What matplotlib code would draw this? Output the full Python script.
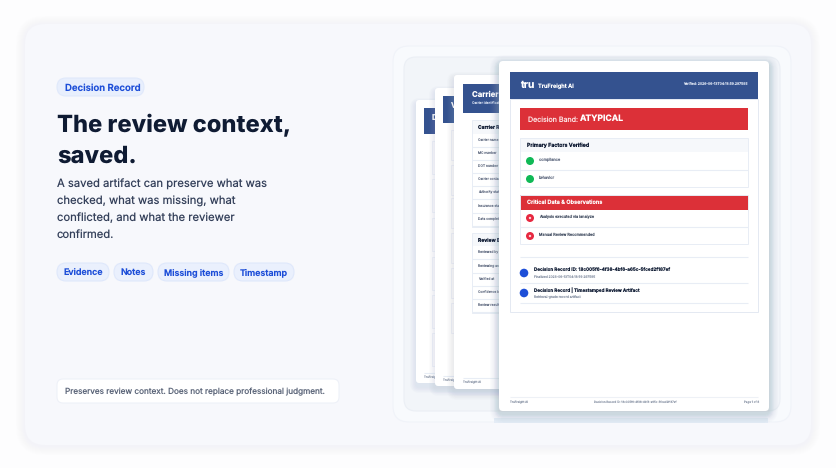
import matplotlib
matplotlib.use('Agg')
import matplotlib.pyplot as plt
from matplotlib.patches import FancyBboxPatch, Circle, Rectangle

plt.rcParams['font.family'] = ['Inter', 'DejaVu Sans']
plt.rcParams['text.hinting'] = 'none'
plt.rcParams['text.hinting_factor'] = 1

# 文本内容
badge_label = 'Decision Record'
heading_lines = ['The review context,', 'saved.']
body_lines = ['A saved artifact can preserve what was',
              'checked, what was missing, what',
              'conflicted, and what the reviewer',
              'confirmed.']
chip_labels = ['Evidence', 'Notes', 'Missing items', 'Timestamp']
note_label = 'Preserves review context. Does not replace professional judgment.'

carrier_rows = ['Carrier name', 'MC number', 'DOT number', 'Carrier contact',
                'Authority status', 'Insurance status', 'Data completeness']
review_rows = ['Reviewed by', 'Reviewing as', 'Verified at', 'Confidence band', 'Review result']
primary_factors = ['compliance', 'behavior']
critical_items = ['Analysis executed via ianalyze', 'Manual Review Recommended']
record_titles = ['Decision Record ID: 18c005f6-4f38-4bf6-a65c-5fced2f187ef',
                 'Decision Record | Timestamped Review Artifact']
record_subs = ['Finalized 2026-06-13T04:18:59.297595', 'Retrieval-grade record artifact']

NAVY = '#34528f'
RED = '#dc3038'
BLUE = '#1d4ed8'
INK = '#0f1b33'
LINE = '#e8edf5'

fig = plt.figure(figsize=(8.36, 4.68), dpi=100)
ax = fig.add_axes([0, 0, 1, 1])
ax.set_xlim(0, 836)
ax.set_ylim(468, 0)
ax.axis('off')
fig.patch.set_facecolor('#fdfdfe')


def rrect(x0, y0, x1, y1, r, fc, ec='none', lw=0.8, alpha=None, z=1):
    p = FancyBboxPatch((x0, y0), x1 - x0, y1 - y0,
                       boxstyle=f'round,pad=0,rounding_size={r}',
                       fc=fc, ec=ec, lw=lw, alpha=alpha, zorder=z)
    ax.add_patch(p)


def shadow(x0, y0, x1, y1, r, spread, dy, color, alpha, z=1):
    n = 10
    for i in range(n):
        s = spread * (1 - i / n)
        rrect(x0 - s, y0 - s + dy, x1 + s, y1 + s + dy, r + s, color, alpha=alpha, z=z)


def box(x0, y0, x1, y1, fc, z):
    ax.add_patch(Rectangle((x0, y0), x1 - x0, y1 - y0, fc=fc, ec='none', zorder=z))


def hline(y, x0, x1, z, color=LINE, lw=0.8):
    ax.plot([x0, x1], [y, y], color=color, lw=lw, zorder=z, solid_capstyle='butt')


def label(x, y, s, size, color, z=50, weight='normal', ha='left'):
    ax.text(x, y, s, fontsize=size, color=color, weight=weight, ha=ha, va='center', zorder=z)


# 背景卡片
shadow(25, 24, 811, 445, 20, 9, 1, '#eef1f8', 0.02, z=1)
rrect(25, 24, 811, 445, 20, '#f7f8fc', z=2)
rrect(393, 46, 791, 422, 16, '#f8fafd', ec='#f0f3f9', z=3)
rrect(404, 57, 780, 411, 12, '#f2f5f9', ec='#ebeff5', z=4)
box(494, 418, 768, 423, '#e4ecf6', 4)

# 左侧文字
rrect(57, 78, 144, 96, 9, '#e8effd', ec='#e0e9fb', z=5)
label(65, 88, badge_label, 6.9, BLUE, weight='semibold')
for y, line in zip([126, 157], heading_lines):
    label(57, y, line, 17.05, INK, weight=800)
for y, line in zip([184, 201, 218, 235], body_lines):
    label(57, y, line, 8.1, '#34405a')
chip_x = [(57, 109), (114, 153), (158, 229), (234, 294)]
for (x0, x1), chip in zip(chip_x, chip_labels):
    rrect(x0, 263, x1, 281, 9, '#eaf0fd', ec='#dfe8fb', z=5)
    label((x0 + x1) / 2, 272.5, chip, 6.4, BLUE, weight='semibold', ha='center')
rrect(57, 379, 339, 403, 6, '#ffffff', ec='#eef1f8', z=5)
label(65, 392, note_label, 5.9, '#5a6478')

# 后面两页
back_sheets = [
    (10, (416, 100, 500, 383), 424, (108, 134), 'D', 432, [141, 179, 218, 257, 295, 333], 33),
    (14, (435, 88, 500, 386), 443, (96, 123), 'V', 451, [130, 165, 198, 233, 268, 303], 30),
]
for z, (x0, y0, x1, y1), hd_x, hd_y, ch, bx, tops, bh in back_sheets:
    shadow(x0, y0, x1, y1, 3, 6, 4, '#aab6c8', 0.02, z=z)
    rrect(x0, y0, x1, y1, 3, '#ffffff', z=z + 1)
    box(hd_x, hd_y[0], x1, hd_y[1], NAVY, z + 2)
    ax.text(bx, hd_y[0] + 10, ch, fontsize=5.6, color='white', weight='bold',
            va='center', zorder=z + 2)
    hline(y1 - 10, hd_x, x1, z + 2)
    ax.text(hd_x, y1 - 6, 'TruFreight AI', fontsize=2.1, color='#8a94a6', va='center', zorder=z + 2)
    for top in tops:
        ax.add_patch(Rectangle((bx, top), x1 - bx, bh, fc='#fdfdfe', ec='#eff2f7',
                               lw=0.6, zorder=z + 2))

# 第三页 Carrier
shadow(454, 75, 520, 389, 3, 7, 4, '#aab6c8', 0.025, z=20)
rrect(454, 75, 520, 389, 3, '#ffffff', z=21)
box(463, 84, 520, 113, NAVY, 22)
ax.text(472, 95, 'Carrier Record', fontsize=5.6, color='white', weight='bold', va='center', zorder=22)
ax.text(472, 103, 'Carrier identification', fontsize=2.4, color='#d5def0', va='center', zorder=22)

ax.add_patch(Rectangle((472, 120), 48, 107, fc='none', ec=LINE, lw=0.7, zorder=23))
box(472, 120, 520, 134, '#f6f8fb', 22)
ax.text(478, 127, 'Carrier Record', fontsize=3.6, color=INK, weight='bold', va='center', zorder=23)
for y, row in zip([140, 153, 166, 179, 192, 206, 219], carrier_rows):
    ax.text(478, y, row, fontsize=2.4, color='#667085', va='center', zorder=23)
    hline(y + 6.5, 472, 520, 23)

ax.add_patch(Rectangle((472, 233), 48, 80, fc='none', ec=LINE, lw=0.7, zorder=23))
box(472, 233, 520, 246, '#f6f8fb', 22)
ax.text(478, 240, 'Review Event', fontsize=3.6, color=INK, weight='bold', va='center', zorder=23)
for y, row in zip([252, 266, 279, 292, 305], review_rows):
    ax.text(478, y, row, fontsize=2.4, color='#667085', va='center', zorder=23)
    hline(y + 6.5, 472, 520, 23)
hline(378, 463, 520, 23)
ax.text(463, 382, 'TruFreight AI', fontsize=2.1, color='#8a94a6', va='center', zorder=23)

# 最上面一页
shadow(499, 61, 769, 411, 5, 9, 3, '#9fb0c6', 0.03, z=30)
shadow(499, 61, 769, 411, 5, 5, 3, '#9fb0c6', 0.018, z=30)
rrect(499, 61, 769, 411, 4, '#ffffff', z=31)
box(510, 72, 758, 99, NAVY, 32)
label(520, 85.5, 'tru', 7.4, 'white', weight='bold')
label(538, 86, 'TruFreight AI', 4.05, 'white', weight='semibold')
label(748, 84.5, 'Verified: 2026-06-13T04:18:59.297595', 2.5, '#dfe6f3', ha='right')
ax.add_patch(Rectangle((510, 99), 248, 213, fc='none', ec='#e4e9f2', lw=0.7, zorder=33))

box(520, 108, 748, 130, RED, 32)
label(528, 119.5, 'Decision Band:', 5.1, '#fde3e4')
label(580, 119, 'ATYPICAL', 6.2, 'white', weight='bold')

# 主要因素
box(520, 138, 748, 152, '#f6f8fb', 32)
ax.add_patch(Rectangle((520, 138), 228, 49, fc='none', ec=LINE, lw=0.7, zorder=33))
label(527, 145.5, 'Primary Factors Verified', 3.8, INK, weight='semibold')
hline(170, 520, 748, 33)
for y, name in zip([161, 179], primary_factors):
    ax.add_patch(Circle((530, y), 4, fc='#10b956', ec='none', zorder=34))
    label(539, y - 1.5, name, 2.8, '#667085')

# 重要数据
box(520, 195, 748, 210, RED, 32)
ax.add_patch(Rectangle((520, 195), 228, 49, fc='none', ec=LINE, lw=0.7, zorder=33))
label(527, 202.5, 'Critical Data & Observations', 4.0, 'white', weight='semibold')
hline(227, 520, 748, 33)
for y, name in zip([218, 236], critical_items):
    ax.add_patch(Circle((530, y), 4, fc='#e72840', ec='none', zorder=34))
    ax.add_patch(Circle((530, y), 1.2, fc='#fbd5da', ec='none', zorder=35))
    label(539, y - 1.5, name, 2.75, '#4a5568')

hline(257, 520, 748, 33)
for y, title, sub in zip([273, 293], record_titles, record_subs):
    ax.add_patch(Circle((524, y), 4.3, fc='#1d4fd8', ec='none', zorder=34))
    label(534, y - 3.3, title, 3.3, INK, weight='semibold')
    label(534, y + 3.8, sub, 2.35, '#8a94a6')
hline(283, 520, 748, 33)
hline(303, 520, 748, 33)

# 页脚
hline(397, 510, 758, 33, color='#eef1f6')
label(510, 402, 'TruFreight AI', 2.1, '#8a94a6')
label(635, 402, 'Decision Record ID: 18c005f6-4f38-4bf6-a65c-5fced2f187ef', 2.05, '#8a94a6', ha='center')
label(759, 402, 'Page 1 of 8', 2.1, '#8a94a6', ha='right')

fig.savefig('out.png', dpi=100)
